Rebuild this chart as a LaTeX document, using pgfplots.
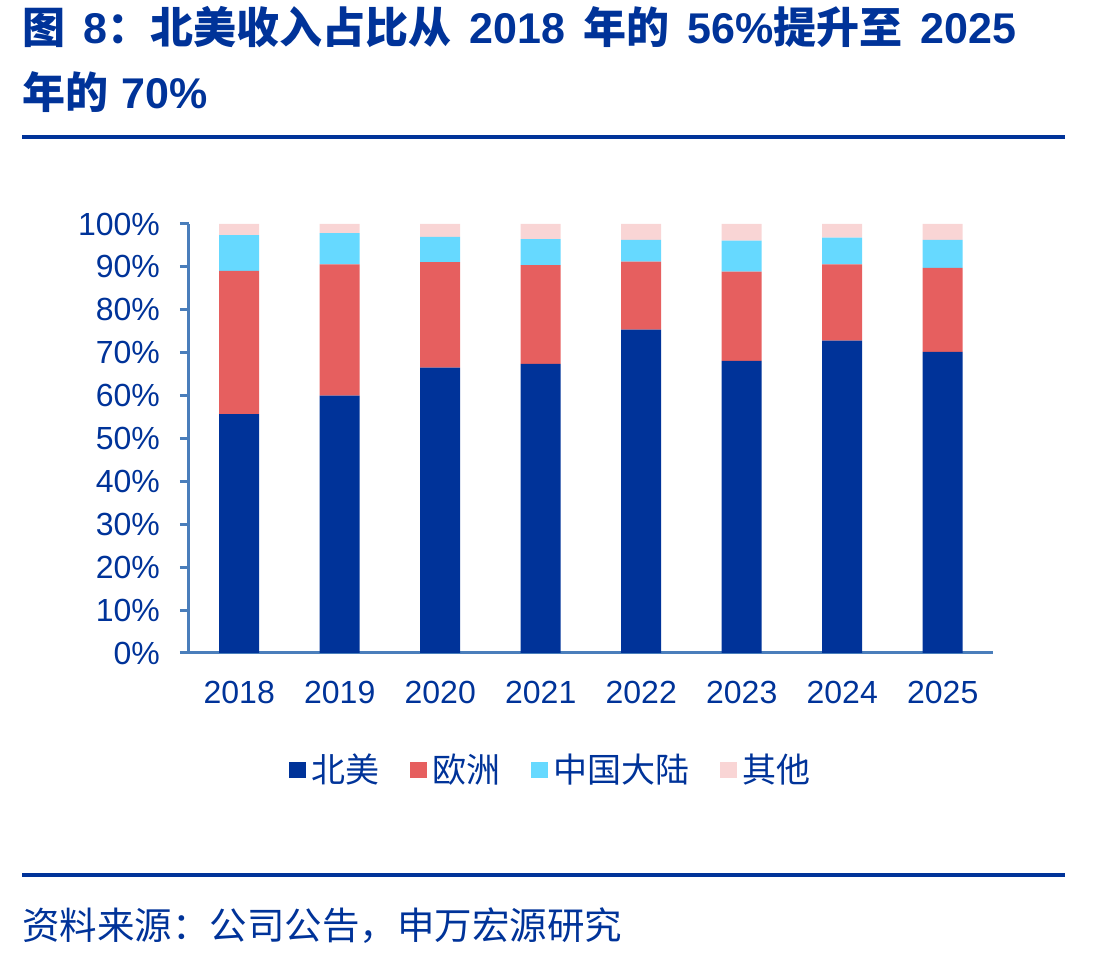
\documentclass[border=0pt]{standalone}
\usepackage{fontspec}
\usepackage{pgfplots}
\pgfplotsset{compat=1.18}
\setmainfont{Liberation Sans}
\newfontfamily\cjk{Noto Sans CJK SC}
\definecolor{navy}{RGB}{0,51,153}
\definecolor{eured}{RGB}{230,95,95}
\definecolor{cncyan}{RGB}{102,217,255}
\definecolor{othpink}{RGB}{249,213,213}
\definecolor{axblue}{RGB}{74,126,187}
\newcommand\tl[1]{{\rmfamily\bfseries #1}}
\newcommand\tsp{\hspace{0.42em}}
\begin{document}
\begin{tikzpicture}
\useasboundingbox (0,0) rectangle (550pt,479pt);
% title and rules
\node[anchor=base west, inner sep=0pt, text=navy, font=\fontsize{21.5}{24}\selectfont\cjk\bfseries]
  at (11pt,457pt) {图\tsp{}\tl{8}：北美收入占比从\tsp{}\tl{2018}\tsp{}年的\tsp{}\tl{56\%}提升至\tsp{}\tl{2025}};
\node[anchor=base west, inner sep=0pt, text=navy, font=\fontsize{21.5}{24}\selectfont\cjk\bfseries]
  at (11pt,424.5pt) {年的\hspace{0.3em}\tl{70\%}};
\draw[navy, line width=2pt] (11pt,410.5pt) -- (532.5pt,410.5pt);
\draw[navy, line width=2pt] (11pt,41.5pt) -- (532.5pt,41.5pt);
\node[anchor=base west, inner sep=0pt, text=navy, font=\fontsize{18.75}{21}\selectfont\cjk]
  at (11pt,9pt) {资料来源：公司公告，申万宏源研究};
\begin{axis}[
  at={(94.5pt,152.5pt)}, anchor=south west,
  scale only axis, width=402pt, height=214.5pt,
  ybar stacked, bar width=20pt,
  xmin=-0.5, xmax=7.5, ymin=0, ymax=100,
  axis x line=bottom, axis y line=left,
  axis line style={axblue, line width=1.5pt, -},
  xtick={0,...,7},
  xticklabels={2018,2019,2020,2021,2022,2023,2024,2025},
  minor xtick={-0.5,0.5,...,7.5},
  ytick={0,10,...,100},
  yticklabels={0\%,10\%,20\%,30\%,40\%,50\%,60\%,70\%,80\%,90\%,100\%},
  tick align=outside,
  major tick length=4.5pt, minor tick length=5pt,
  xtick style={draw=none},
  minor tick style={axblue, line width=1.5pt},
  ytick style={axblue, line width=1.5pt},
  tick label style={text=navy, font=\fontsize{16}{18}\selectfont},
  xticklabel style={yshift=-6pt},
  yticklabel style={xshift=-6.5pt},
  legend columns=4,
  legend style={at={(0.451,-0.2727)}, anchor=center, draw=none, fill=none,
    font=\fontsize{17}{19}\selectfont\cjk, text=navy,
    /tikz/every even column/.append style={column sep=13pt}},
  legend image code/.code={\fill[#1] (0pt,-4pt) rectangle (8.5pt,4pt);},
  legend cell align=left,
]
\addplot[fill=navy, draw=none] coordinates {(0,55.7) (1,60.0) (2,66.5) (3,67.4) (4,75.4) (5,68.1) (6,72.8) (7,70.2)};
\addplot[fill=eured, draw=none] coordinates {(0,33.4) (1,30.6) (2,24.6) (3,23.0) (4,15.8) (5,20.8) (6,17.8) (7,19.6)};
\addplot[fill=cncyan, draw=none] coordinates {(0,8.3) (1,7.3) (2,5.9) (3,6.1) (4,5.1) (5,7.2) (6,6.2) (7,6.5)};
\addplot[fill=othpink, draw=none] coordinates {(0,2.6) (1,2.1) (2,3.0) (3,3.5) (4,3.7) (5,3.9) (6,3.2) (7,3.7)};
\legend{\hspace{1pt}北美,\hspace{1pt}欧洲,\hspace{1pt}中国大陆,\hspace{1pt}其他}
\end{axis}
\end{tikzpicture}
\end{document}
